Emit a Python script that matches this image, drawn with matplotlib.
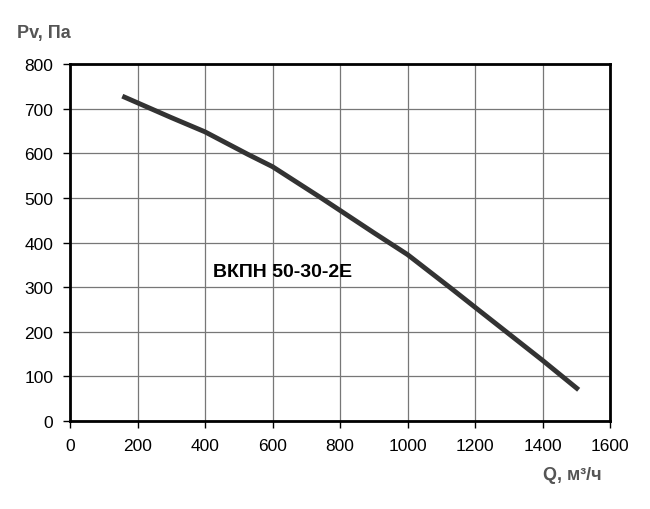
import matplotlib.pyplot as plt

plt.rcParams['font.family'] = ['Liberation Sans', 'DejaVu Sans']

# расход, м3/ч и динамическое давление, Па
q = [155, 300, 400, 526, 600, 744, 800, 900, 1000, 1128, 1200, 1400, 1507]
pv = [728, 680, 648, 598, 570, 500, 472, 422, 373, 298, 255, 136, 70]

x_ticks = [0, 200, 400, 600, 800, 1000, 1200, 1400, 1600]
y_ticks = [0, 100, 200, 300, 400, 500, 600, 700, 800]
model = 'ВКПН 50-30-2Е'

fig = plt.figure(figsize=(6.5, 5.1), dpi=100)
ax = fig.add_axes([0.1077, 0.1725, 0.8308, 0.7])

ax.plot(q, pv, color='#333333', lw=3.5, solid_capstyle='butt', solid_joinstyle='round')

ax.set_xlim(0, 1600)
ax.set_ylim(0, 800)
ax.set_xticks(x_ticks)
ax.set_yticks(y_ticks)
ax.grid(True, color='#777777', lw=0.9)
ax.tick_params(direction='out', length=5, width=1, labelsize=12.5, pad=7)
for s in ax.spines.values():
    s.set_linewidth(2)

ax.text(425, 335, model, fontsize=14, fontweight='bold', va='center')

fig.text(0.026, 0.925, 'Pv, Па', fontsize=13, fontweight='bold', color='#555555')
fig.text(0.835, 0.058, 'Q, м³/ч', fontsize=13, fontweight='bold', color='#555555')

fig.savefig('out.png', dpi=100)
